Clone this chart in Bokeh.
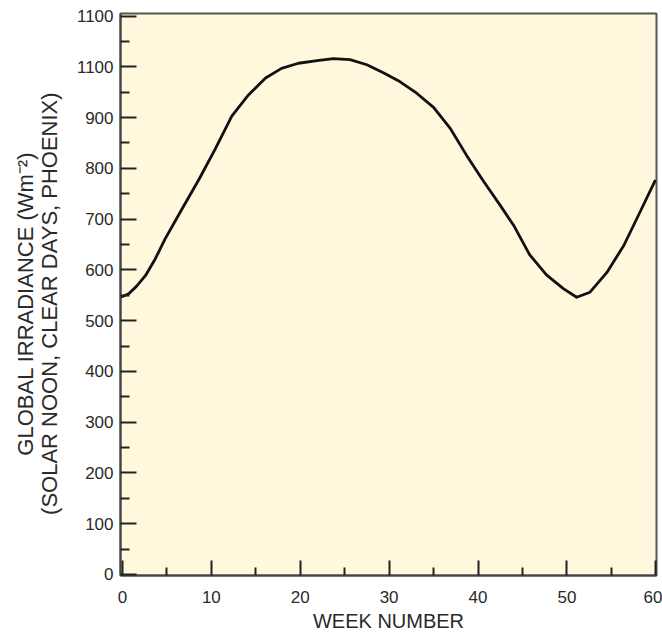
from bokeh.plotting import figure
from bokeh.models import FixedTicker, Range1d
from bokeh.embed import file_html
from bokeh.resources import INLINE

# Data
weeks = [-0.2, 0.7, 1.6, 2.6, 3.7, 4.8, 6.7, 8.6, 10.4, 12.3, 14.2, 16.1, 17.9,
         19.8, 21.9, 23.7, 25.6, 27.5, 29.4, 31.2, 33.1, 35.0, 36.9, 38.7,
         40.6, 42.5, 44.0, 45.8, 47.7, 49.6, 51.1, 52.6, 54.5, 56.4, 58.2, 59.9]
irradiance = [546, 553, 568, 589, 622, 661, 720, 778, 837, 903, 945, 978, 997,
              1007, 1012, 1016, 1014, 1004, 988, 971, 948, 920, 878, 826,
              775, 727, 688, 630, 590, 563, 546, 556, 595, 648, 713, 775]

y_ticks = [0, 100, 200, 300, 400, 500, 600, 700, 800, 900, 1000, 1100]
y_tick_labels = ["0", "100", "200", "300", "400", "500", "600", "700", "800",
                 "900", "1100", "1100"]
y_minor = [50, 150, 250, 350, 450, 550, 650, 750, 850, 950, 1050]
x_ticks = [0, 10, 20, 30, 40, 50, 60]
x_minor = [5, 15, 25, 35, 45, 55]

FONT = "Liberation Sans"
TXT = "#2a2a2a"
PAD = "\u00a0\u00a0\u00a0"

p = figure(width=662, height=636, output_backend="svg", toolbar_location=None,
           x_range=Range1d(-0.22, 60.08), y_range=Range1d(-2, 1105),
           min_border_left=120, min_border_right=6, min_border_top=13,
           min_border_bottom=61,
           background_fill_color="#FFF8DC", border_fill_color="#FFFFFF")

p.outline_line_color = "#555555"
p.outline_line_width = 2
p.xgrid.visible = False
p.ygrid.visible = False

p.line(weeks, irradiance, line_width=2.8, line_color="#111111",
       line_join="round", line_cap="round")

# Y axis
ya = p.yaxis[0]
ya.ticker = FixedTicker(ticks=y_ticks, minor_ticks=y_minor)
ya.major_label_overrides = {t: l for t, l in zip(y_ticks, y_tick_labels)}
ya.axis_label = ("GLOBAL IRRADIANCE (Wm\u207b\u00b2)" + PAD + "\n"
                 "(SOLAR NOON, CLEAR DAYS, PHOENIX)" + PAD)
ya.axis_label_text_font = FONT
ya.axis_label_text_font_size = "22px"
ya.axis_label_text_font_style = "normal"
ya.axis_label_text_color = TXT
ya.axis_label_text_line_height = 0.95
ya.axis_label_standoff = 12
ya.major_label_text_font = FONT
ya.major_label_text_font_size = "17px"
ya.major_label_text_color = TXT
ya.major_label_standoff = 7
ya.major_tick_in = 16
ya.major_tick_out = 0
ya.minor_tick_in = 9
ya.minor_tick_out = 0
ya.major_tick_line_width = 2
ya.minor_tick_line_width = 2
ya.major_tick_line_color = "#222222"
ya.minor_tick_line_color = "#222222"
ya.axis_line_color = "#444444"
ya.axis_line_width = 2

# X axis
xa = p.xaxis[0]
xa.ticker = FixedTicker(ticks=x_ticks, minor_ticks=x_minor)
xa.axis_label = "WEEK NUMBER"
xa.axis_label_text_font = FONT
xa.axis_label_text_font_size = "20px"
xa.axis_label_text_font_style = "normal"
xa.axis_label_text_color = TXT
xa.axis_label_standoff = 4
xa.major_label_text_font = FONT
xa.major_label_text_font_size = "17px"
xa.major_label_text_color = TXT
xa.major_label_standoff = 15
xa.major_tick_in = 15
xa.major_tick_out = 0
xa.minor_tick_in = 8
xa.minor_tick_out = 0
xa.major_tick_line_width = 2
xa.minor_tick_line_width = 2
xa.major_tick_line_color = "#222222"
xa.minor_tick_line_color = "#222222"
xa.axis_line_color = "#444444"
xa.axis_line_width = 2

open("out.html", "w").write(file_html(p, INLINE))
